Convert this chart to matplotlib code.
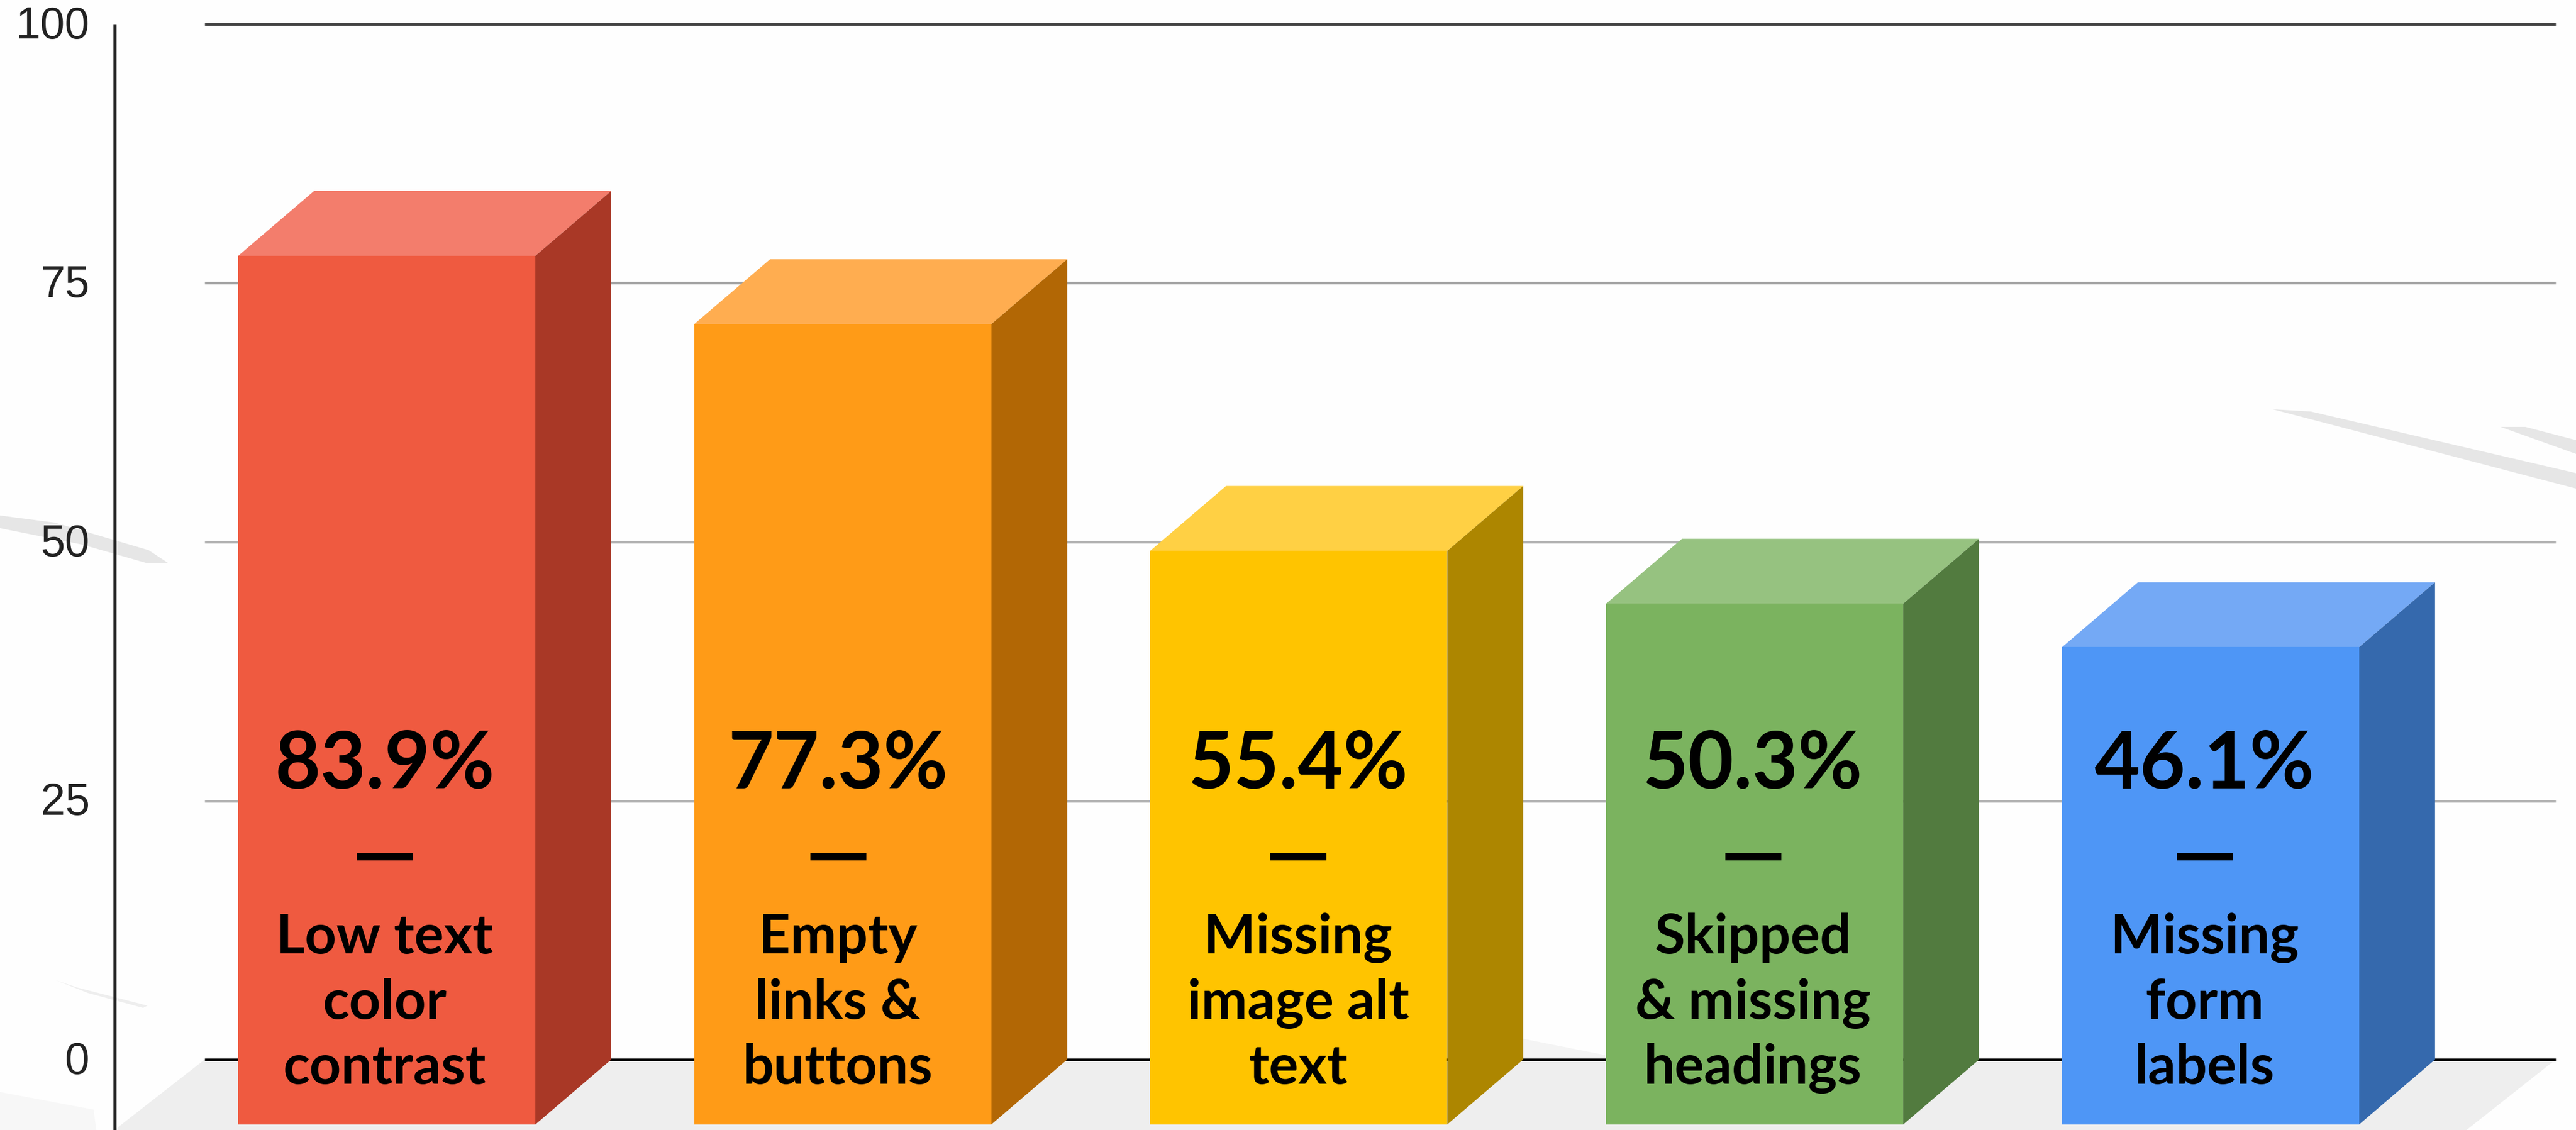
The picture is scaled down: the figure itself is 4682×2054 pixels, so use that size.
import numpy as np
import matplotlib
matplotlib.use("Agg")
import matplotlib.pyplot as plt

values = [83.9, 77.3, 55.4, 50.3, 46.1]
value_labels = ["83.9%", "77.3%", "55.4%", "50.3%", "46.1%"]
issues = [
    ["Low text", "color", "contrast"],
    ["Empty", "links &", "buttons"],
    ["Missing", "image alt", "text"],
    ["Skipped", "& missing", "headings"],
    ["Missing", "form", "labels"],
]
y_ticks = [0, 25, 50, 75, 100]
grid_colors = ["#000000", "#b0b0b0", "#b0b0b0", "#a0a0a0", "#404040"]

front_colors = ["#ef5a40", "#ff9b17", "#ffc400", "#7bb35f", "#4e96f6"]
top_colors = ["#f37d6c", "#ffad50", "#ffd044", "#96c280", "#74a9f5"]
side_colors = ["#a93826", "#b26705", "#ad8600", "#527b3f", "#3569ad"]
text_shift = [-4, -9, -1, -3, -11]   # pixels, labels are not quite centred on the bars

W, H = 4682, 2054
PX_X = 828.7      # pixels per category
PX_Y = 18.82      # pixels per percent
X0 = 703.0        # pixel of first category centre
Y0 = 1926.0       # pixel of zero line
BAR_W = 540 / PX_X
DX = 138 / PX_X
DY = 118 / PX_Y

fig = plt.figure(figsize=(W / 100, H / 100), dpi=100, facecolor="#fefefe")
ax = fig.add_axes([0, 0, 1, 1])
ax.set_xlim(-X0 / PX_X, (W - X0) / PX_X)
ax.set_ylim((Y0 - H) / PX_Y, Y0 / PX_Y)
ax.axis("off")


def px(x, y):
    return (x - X0) / PX_X, (Y0 - y) / PX_Y


def scuff(points, color="#e6e6e6"):
    xs, ys = zip(*[px(*p) for p in points])
    ax.fill(xs, ys, color=color, lw=0, zorder=1)


# faint background scratches
scuff([(4131, 744), (4200, 748), (4682, 860), (4682, 888)])
scuff([(4545, 776), (4590, 776), (4682, 800), (4682, 825)])
scuff([(0, 937), (100, 950), (270, 1000), (305, 1023), (265, 1023), (150, 990), (0, 960)])
scuff([(102, 1782), (140, 1795), (268, 1828), (260, 1832), (160, 1805)], "#eeeeee")
scuff([(0, 1985), (170, 2017), (175, 2054), (0, 2054)], "#f7f7f7")
scuff([(2767, 1888), (2918, 1918), (2918, 1924), (2767, 1924)], "#f4f4f4")

# floor
fx, fy = zip(*[px(*p) for p in [(372, Y0), (4645, Y0), (4483, H), (208, H)]])
ax.fill(fx, fy, color="#eeeeee", lw=0, zorder=1)

# grid
gx0, gx1 = px(372, 0)[0], px(4645, 0)[0]
for tick, c in zip(y_ticks, grid_colors):
    ax.plot([gx0, gx1], [tick, tick], color=c, lw=3.4, zorder=2, solid_capstyle="butt")
    base = tick - 26 / PX_Y
    ax.text(px(163, 0)[0], base, str(tick), ha="right", va="baseline", fontsize=58,
            family="Liberation Sans", color="#222222", zorder=5)

axis_x = px(209, 0)[0]
ax.plot([axis_x, axis_x], [100, ax.get_ylim()[0]], color="#222222", lw=4, zorder=2,
        solid_capstyle="butt")

# 3d bars
for i, v in enumerate(values):
    l = i - BAR_W / 2
    r = i + BAR_W / 2
    b = -DY
    t = v - DY
    ax.fill([l, r, r + DX, l + DX], [t, t, v, v], color=top_colors[i], lw=0, zorder=3)
    ax.fill([r, r + DX, r + DX, r], [b, 0, v, t], color=side_colors[i], lw=0, zorder=3)
    ax.fill([l, r, r, l], [b, b, t, t], color=front_colors[i], lw=0, zorder=4)

    cx = i + text_shift[i] / PX_X
    ax.text(cx, px(0, 1433)[1], value_labels[i], ha="center", va="baseline", fontsize=103,
            family="Lato", fontweight="bold", color="black", zorder=5)
    ax.text(cx, px(0, 1602)[1], "\u2014", ha="center", va="baseline", fontsize=108,
            family="Lato", fontweight="bold", color="black", zorder=5)
    for line, base in zip(issues[i], [1733, 1852, 1970]):
        ax.text(cx, px(0, base)[1], line, ha="center", va="baseline", fontsize=72,
                family="Lato", fontweight="bold", color="black", zorder=5)

fig.savefig("out.png", dpi=100, facecolor=fig.get_facecolor())
